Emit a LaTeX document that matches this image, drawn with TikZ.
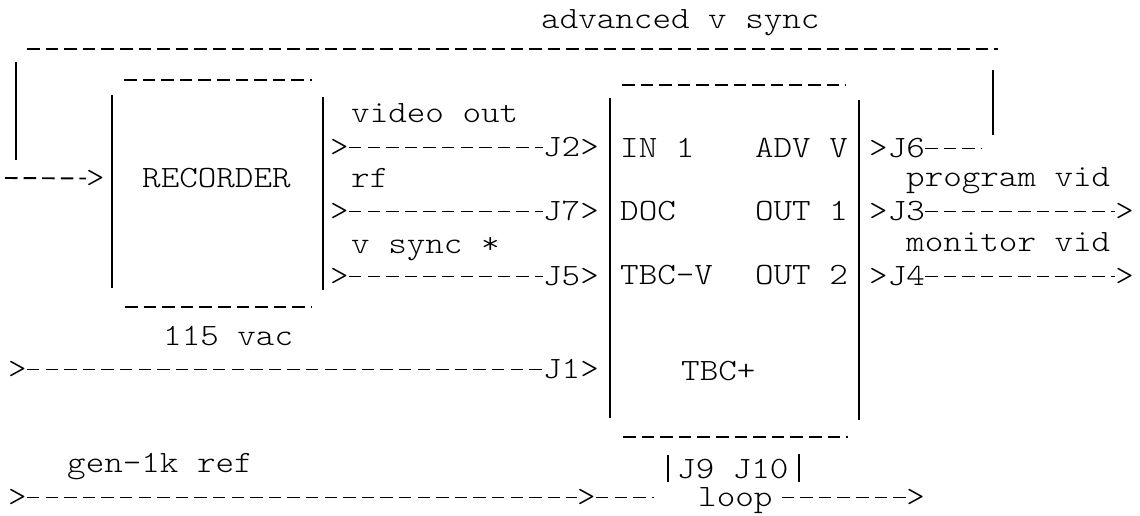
\documentclass[tikz,border=0pt]{standalone}
\usepackage{fontspec}
\newfontfamily\typer{lmmonolt10-regular.otf}[FakeStretch=1.14]
\tikzset{
  tw/.style={font=\typer\fontsize{31}{31}\selectfont, inner sep=0pt, anchor=base west},
  jack/.style={tw, text height=17pt, text depth=0pt},
  wire/.style={line width=1.9pt, dash pattern=on 12.5pt off 6.1pt},
  bar/.style={line width=1.8pt},
}
\begin{document}
\begin{tikzpicture}[x=1pt,y=-1pt]
\useasboundingbox (0,0) rectangle (1140,515);

% advanced v sync return
\node[tw] (adv) at (541,28) {advanced v sync};
\draw[wire] (27,49) -- (998,49);
\draw[bar] (16,62) -- (16,160);
\draw[bar] (993,70) -- (993,135);
\coordinate (recin0) at (5,178);
\node[jack] (recin) at (86,187) {>};
\draw[wire] (recin0) -- (recin.west);

% recorder
\node[tw] (rec) at (142,187) {RECORDER};
\draw[bar] (112,95) -- (112,288);
\draw[bar] (323,97) -- (323,290);
\draw[wire] (124,80) -- (312,80);
\draw[wire] (125,307) -- (312,307);
\node[tw] (vac) at (163,345) {115 vac};

% recorder to tbc
\foreach \y/\j/\lab/\ly in {156/J2/video out/122, 220/J7/rf/187, 285/J5/v sync */253}{
  \node[tw] (l\j) at (351,\ly) {\lab};
  \node[jack] (o\j) at (330,\y) {>};
  \node[jack, anchor=base east] (\j) at (599,\y) {\j>};
  \draw[wire] (o\j.east) -- (\j.west);
}

% tbc
\draw[bar] (610,98) -- (610,418);
\draw[bar] (859,100) -- (859,420);
\draw[wire] (622,85) -- (846,85);
\draw[wire] (623,437) -- (848,437);
\node[tw] (in1) at (620,157) {IN 1};
\node[tw, anchor=base east] (advv) at (848,157) {ADV V};
\node[tw] (doc) at (620,220) {DOC};
\node[tw, anchor=base east] (out1) at (848,220) {OUT 1};
\node[tw] (tbcv) at (620,284) {TBC-V};
\node[tw, anchor=base east] (out2) at (848,284) {OUT 2};
\node[tw] (tbc) at (681,380) {TBC+};
\node[tw] (j910) at (677,478) {J9 J10};
\draw[bar] (668,455) -- (668,482);
\draw[bar] (799,454) -- (799,482);

% outputs
\node[jack] (J6) at (869,157) {>J6};
\coordinate (j6end) at ([xshift=56pt]J6.east);
\draw[wire] (J6.east) -- (j6end);
\foreach \y/\j/\lab/\ly in {220/J3/program vid/186, 285/J4/monitor vid/251}{
  \node[tw] (l\j) at (906,\ly) {\lab};
  \node[jack] (\j) at (869,\y) {>\j};
  \node[jack, anchor=base east] (e\j) at (1134,\y) {>};
  \draw[wire] (\j.east) -- (e\j.west);
}

% power and reference
\node[jack] (pin) at (8,378) {>};
\node[jack, anchor=base east] (J1) at (599,378) {J1>};
\draw[wire] (pin.east) -- (J1.west);
\node[tw] (gen) at (67,472) {gen-1k ref};
\node[jack] (rin) at (8,506) {>};
\node[jack] (rmid) at (577,506) {>};
\draw[wire] (rin.east) -- (rmid.west);
\coordinate (lp0) at ([xshift=58pt]rmid.east);
\draw[wire] (rmid.east) -- (lp0);
\node[jack] (loop) at (698,506) {loop};
\node[jack, anchor=base east] (lpout) at (925,506) {>};
\draw[wire] ([xshift=9pt]loop.east) -- (lpout.west);
\end{tikzpicture}
\end{document}
